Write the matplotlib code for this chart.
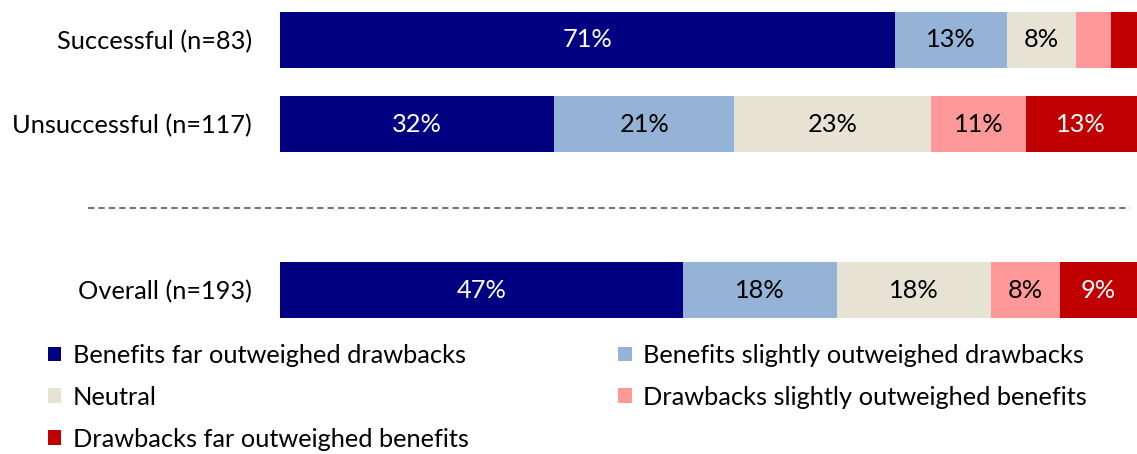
import numpy as np
import matplotlib.pyplot as plt
from matplotlib.patches import Patch

plt.rcParams['font.family'] = ['Lato', 'DejaVu Sans']

groups = ['Successful (n=83)', 'Unsuccessful (n=117)', 'Overall (n=193)']
categories = ['Benefits far outweighed drawbacks',
              'Benefits slightly outweighed drawbacks',
              'Neutral',
              'Drawbacks slightly outweighed benefits',
              'Drawbacks far outweighed benefits']
successful = [71, 13, 8, 4, 3]
unsuccessful = [32, 21, 23, 11, 13]
overall = [47, 18, 18, 8, 9]

colors = ['#000080', '#95B3D7', '#E6E2D4', '#FF9999', '#C00000']
label_colors = ['white', 'black', 'black', 'black', 'white']

rows = [successful, unsuccessful, overall]
ypos = [0, 1, 2.976]

W, H = 1137, 454
fig = plt.figure(figsize=(W / 100, H / 100), dpi=100)
ax = fig.add_axes([280 / W, 1 - 330 / H, 857 / W, 330 / H])

fs = 18.3
for y, vals in zip(ypos, rows):
    vals = np.array(vals, dtype=float)
    shares = vals / vals.sum() * 100  # 100% stacked
    left = 0.0
    for i, (v, s) in enumerate(zip(vals, shares)):
        ax.barh(y, s, left=left, height=0.667, color=colors[i], edgecolor='none')
        if v >= 5:
            ax.text(left + s / 2, y, f'{int(v)}%', ha='center', va='center',
                    color=label_colors[i], fontsize=fs)
        left += s

ax.set_xlim(0, 100)
ax.set_ylim(3.452, -0.476)
ax.set_yticks(ypos)
ax.set_yticklabels(groups, fontsize=fs)
ax.tick_params(axis='y', length=0, pad=20)
ax.set_xticks([])
for sp in ax.spines.values():
    sp.set_visible(False)

# separator between subgroups and overall
ax.plot([-22.4, 99.2], [2, 2], color='#777777', lw=1.5,
        linestyle=(0, (3.0, 2.0)), clip_on=False)

handles = [Patch(facecolor=c, edgecolor='none') for c in colors]
order = [0, 2, 4, 1, 3]
fig.legend([handles[i] for i in order], [categories[i] for i in order],
           ncol=2, loc='upper left', bbox_to_anchor=(48 / W, 1 - 344 / H),
           frameon=False, fontsize=fs, handlelength=0.52, handleheight=0.52,
           handletextpad=0.45, columnspacing=5.9, labelspacing=0.74,
           borderaxespad=0, borderpad=0)

fig.savefig('out.png', dpi=100)
